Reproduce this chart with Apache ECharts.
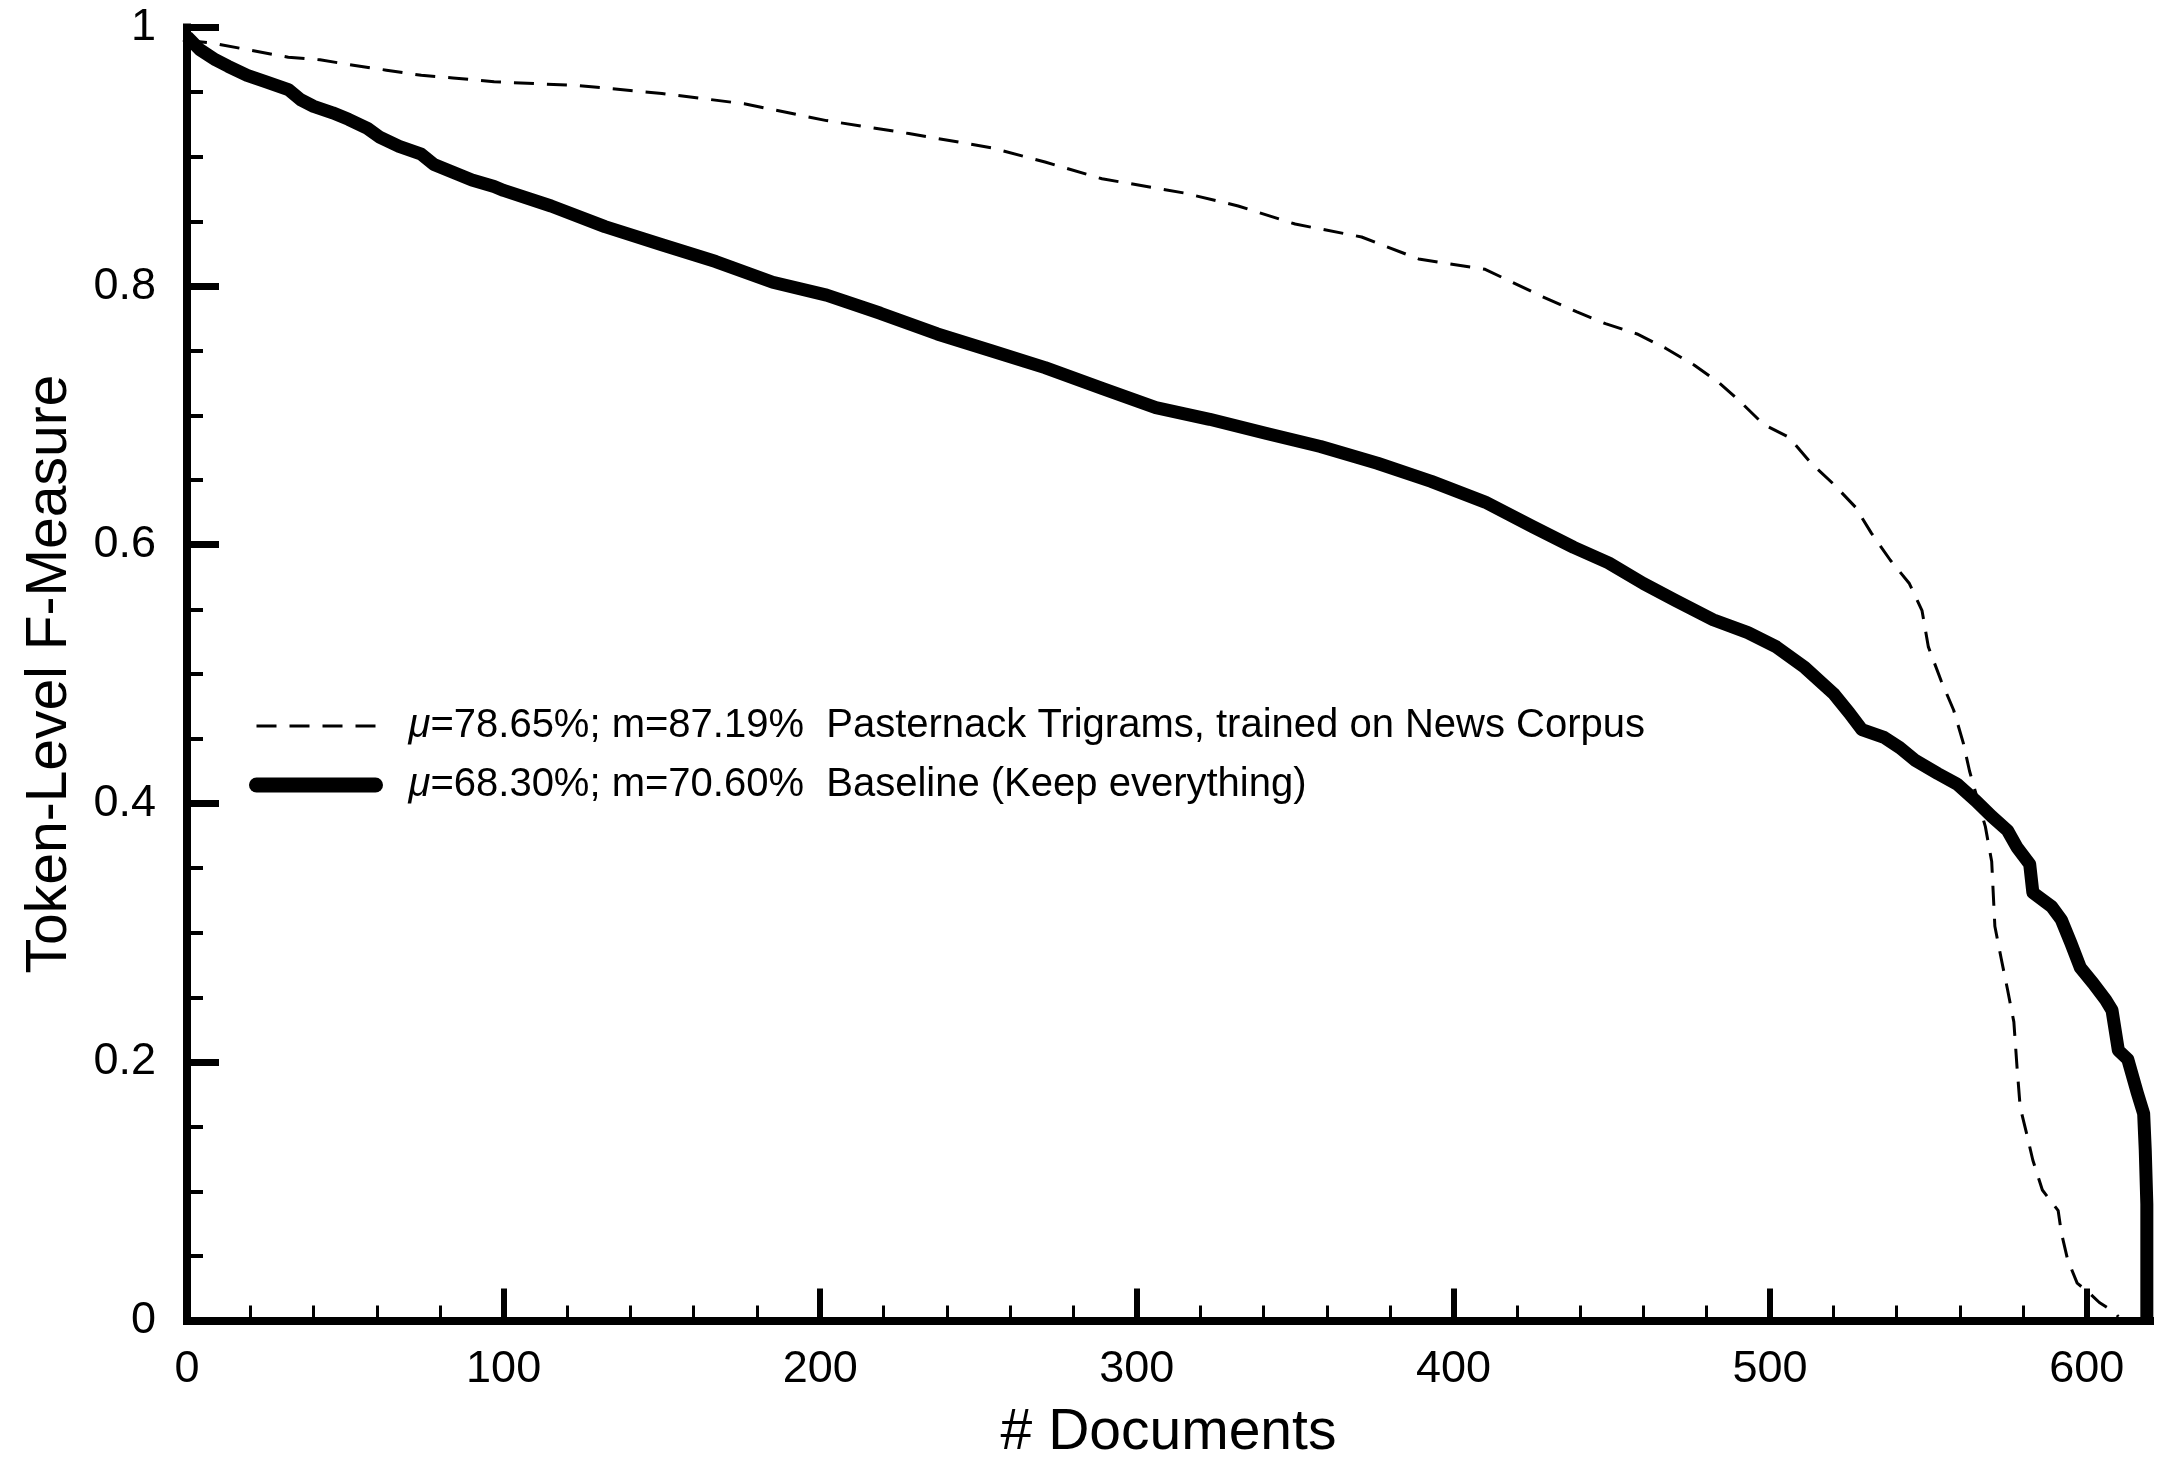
<!DOCTYPE html>
<html>
<head>
<meta charset="utf-8">
<title>Token-Level F-Measure</title>
<script src="https://cdn.jsdelivr.net/npm/echarts@6/dist/echarts.min.js"></script>
<style>
  html, body { margin: 0; padding: 0; background: #ffffff; }
  #chart { width: 2157px; height: 1461px; }
</style>
</head>
<body>
<div id="chart"></div>
<script>
// Per-document F-measure, documents sorted from best to worst.
const trigramDocs = [0, 8, 21, 32, 42, 52, 63, 74, 84, 97, 124, 150, 176, 202, 228, 254, 271, 289, 315, 332,
  350, 371, 389, 410, 428, 439, 448, 458, 467, 476, 484, 490, 498, 506, 513, 520, 527, 532, 538, 544,
  548, 550, 554, 558, 561, 563, 568, 570, 571, 573, 575, 577, 578, 579, 581, 583, 586, 591, 592, 594,
  597, 601, 604, 609, 610];
const trigramF = [0.990, 0.988, 0.982, 0.977, 0.975, 0.971, 0.967, 0.963, 0.961, 0.958, 0.955, 0.949, 0.941, 0.928, 0.918, 0.907, 0.896, 0.883, 0.872, 0.862,
  0.848, 0.838, 0.821, 0.813, 0.792, 0.780, 0.771, 0.763, 0.752, 0.739, 0.725, 0.712, 0.693, 0.683, 0.663, 0.647, 0.629, 0.609, 0.588, 0.570,
  0.549, 0.521, 0.495, 0.472, 0.447, 0.425, 0.382, 0.355, 0.305, 0.280, 0.256, 0.231, 0.196, 0.165, 0.145, 0.124, 0.101, 0.085, 0.068, 0.047,
  0.029, 0.021, 0.014, 0.006, 0.003];

const baselineDocs = [0, 4, 9, 13, 19, 25, 32, 36, 40, 46, 51, 57, 61, 67, 74, 78, 84, 90, 97, 100, 115,
  132, 150, 167, 185, 202, 219, 237, 254, 271, 289, 306, 323, 341, 358, 376, 393, 410, 425, 438, 449,
  460, 470, 482, 493, 502, 511, 520, 525, 529, 536, 541, 546, 553, 559, 565, 570, 575, 578, 582, 583,
  589, 592, 595, 598, 602, 606, 608, 610, 613, 616, 618, 618.5, 619, 619];
const baselineF = [0.993, 0.983, 0.975, 0.970, 0.963, 0.958, 0.952, 0.944, 0.939, 0.934, 0.929, 0.922, 0.915, 0.908, 0.902, 0.894, 0.888, 0.882, 0.877, 0.874, 0.862,
  0.846, 0.832, 0.819, 0.803, 0.793, 0.779, 0.763, 0.750, 0.737, 0.721, 0.706, 0.697, 0.686, 0.676, 0.663, 0.649, 0.633, 0.614, 0.598, 0.586,
  0.570, 0.557, 0.542, 0.532, 0.521, 0.505, 0.485, 0.470, 0.457, 0.451, 0.443, 0.433, 0.423, 0.415, 0.402, 0.390, 0.379, 0.366, 0.353, 0.331,
  0.320, 0.310, 0.292, 0.273, 0.261, 0.248, 0.240, 0.209, 0.202, 0.176, 0.160, 0.132, 0.090, 0.000];

const seriesNames = ['Pasternack Trigrams, trained on News Corpus', 'Baseline (Keep everything)'];
const seriesMeans = ['78.65%', '68.30%'];
const seriesMedians = ['87.19%', '70.60%'];

const xTickLabels = [0, 100, 200, 300, 400, 500, 600];
const yTickLabels = [0, 0.2, 0.4, 0.6, 0.8, 1];

const FONT = '"Liberation Sans", Arial, Helvetica, sans-serif';
const pairs = (xs, ys) => xs.map((x, i) => [x, ys[i]]);

const chart = echarts.init(document.getElementById('chart'), null, { renderer: 'canvas' });

chart.setOption({
  animation: false,
  backgroundColor: '#ffffff',
  textStyle: { fontFamily: FONT, color: '#000' },
  grid: { left: 187, right: 7, top: 27.5, bottom: 140.4, containLabel: false, outerBoundsMode: 'none' },
  legend: {
    orient: 'vertical',
    left: 244,
    top: 699,
    itemWidth: 119,
    itemHeight: 20,
    itemGap: 15,
    selectedMode: false,
    data: [
      { name: seriesNames[0], lineStyle: { width: 3, type: [20, 13], cap: 'butt' }, itemStyle: { opacity: 0 } },
      { name: seriesNames[1], lineStyle: { width: 15, cap: 'round' }, itemStyle: { opacity: 0 } }
    ],
    formatter: function (name) {
      const i = seriesNames.indexOf(name);
      return '{mu|μ}{t|=' + seriesMeans[i] + '; m=' + seriesMedians[i] + '  ' + name + '}';
    },
    textStyle: {
      color: '#000',
      fontFamily: FONT,
      fontSize: 40,
      lineHeight: 44,
      padding: [0, 0, 0, 28],
      rich: {
        mu: { fontFamily: FONT, fontSize: 40, fontStyle: 'italic', color: '#000', lineHeight: 44 },
        t: { fontFamily: FONT, fontSize: 40, color: '#000', lineHeight: 44 }
      }
    }
  },
  xAxis: [
    {
      type: 'value',
      position: 'bottom',
      min: 0,
      max: 620,
      interval: 100,
      name: '# Documents',
      nameLocation: 'middle',
      nameGap: 84,
      nameTextStyle: { fontFamily: FONT, fontSize: 57, color: '#000' },
      axisLine: { show: true, lineStyle: { color: '#000', width: 8, cap: 'square' } },
      axisTick: { show: true, inside: true, length: 32, lineStyle: { color: '#000', width: 6 } },
      minorTick: { show: true, splitNumber: 5, length: 15, lineStyle: { color: '#000', width: 3 } },
      axisLabel: {
        show: true, margin: 26, fontFamily: FONT, fontSize: 45, color: '#000',
        formatter: v => (xTickLabels.indexOf(v) >= 0 ? String(v) : '')
      },
      splitLine: { show: false },
      minorSplitLine: { show: false }
    },
    {
      type: 'value',
      position: 'top',
      min: 0,
      max: 620,
      offset: 5,
      axisLine: { show: true, lineStyle: { color: '#000', width: 6, cap: 'square' } },
      axisTick: { show: false },
      axisLabel: { show: false },
      splitLine: { show: false }
    }
  ],
  yAxis: [
    {
      type: 'value',
      position: 'left',
      min: 0,
      max: 1,
      interval: 0.2,
      name: 'Token-Level F-Measure',
      nameLocation: 'middle',
      nameGap: 108,
      nameRotate: 90,
      nameTextStyle: { fontFamily: FONT, fontSize: 57, color: '#000' },
      axisLine: { show: true, lineStyle: { color: '#000', width: 8, cap: 'square' } },
      axisTick: { show: true, inside: true, length: 32, lineStyle: { color: '#000', width: 7 } },
      minorTick: { show: true, splitNumber: 4, length: 16, lineStyle: { color: '#000', width: 4 } },
      axisLabel: {
        show: true, margin: 31, fontFamily: FONT, fontSize: 45, color: '#000',
        formatter: v => {
          const hit = yTickLabels.find(t => Math.abs(t - v) < 1e-9);
          return hit === undefined ? '' : String(hit);
        }
      },
      splitLine: { show: false },
      minorSplitLine: { show: false }
    },
    {
      type: 'value',
      position: 'right',
      min: 0,
      max: 1,
      offset: 3,
      axisLine: { show: true, lineStyle: { color: '#000', width: 6, cap: 'square' } },
      axisTick: { show: false },
      axisLabel: { show: false },
      splitLine: { show: false }
    }
  ],
  series: [
    {
      name: seriesNames[0],
      type: 'line',
      xAxisIndex: 0,
      yAxisIndex: 0,
      data: pairs(trigramDocs, trigramF),
      symbol: 'none',
      smooth: false,
      clip: false,
      lineStyle: { color: '#000', width: 3, type: [20, 13], cap: 'butt', join: 'round' },
      itemStyle: { color: '#000' },
      z: 3
    },
    {
      name: seriesNames[1],
      type: 'line',
      xAxisIndex: 0,
      yAxisIndex: 0,
      data: pairs(baselineDocs, baselineF),
      symbol: 'none',
      smooth: false,
      clip: false,
      lineStyle: { color: '#000', width: 13, cap: 'butt', join: 'round' },
      itemStyle: { color: '#000' },
      z: 4
    }
  ]
});
</script>
</body>
</html>
